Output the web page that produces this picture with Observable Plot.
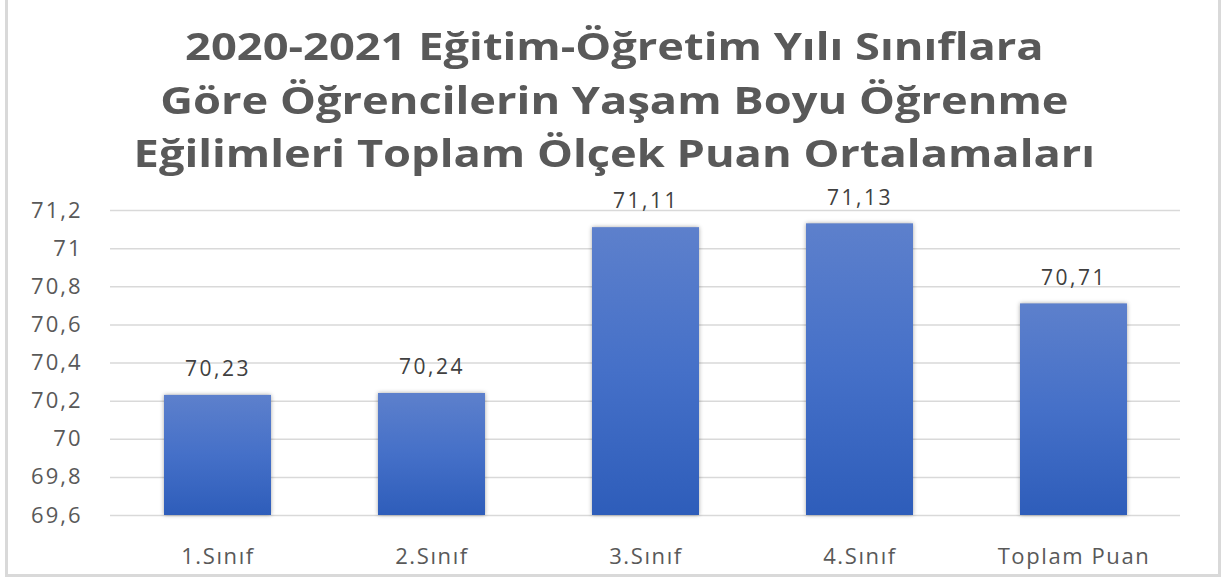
<!DOCTYPE html>
<html><head><meta charset="utf-8">
<script src="https://cdn.jsdelivr.net/npm/d3@7"></script>
<script src="https://cdn.jsdelivr.net/npm/@observablehq/plot@0.6"></script>
<style>
html,body{margin:0;padding:0;background:#fff;width:1228px;height:581px;overflow:hidden;}
#frame{position:absolute;left:5px;top:-3px;width:1210px;height:574px;border:3px solid #d9d9d9;}
#title{position:absolute;left:0;top:19px;width:1228px;text-align:center;font-family:"Open Sans";font-weight:700;font-size:38px;line-height:53.5px;color:#595959;transform:scaleX(1.19);transform-origin:612px 0;}
#chart{position:absolute;left:0;top:180px;}
</style></head><body>
<div id="frame"></div>
<div id="title">2020-2021 Eğitim-Öğretim Yılı Sınıflara<br>Göre Öğrencilerin Yaşam Boyu Öğrenme<br>Eğilimleri Toplam Ölçek Puan Ortalamaları</div>
<div id="chart"></div>
<script>
const categories = ["1.Sınıf", "2.Sınıf", "3.Sınıf", "4.Sınıf", "Toplam Puan"];
const values = [70.23, 70.24, 71.11, 71.13, 70.71];
const yTicks = [69.6, 69.8, 70, 70.2, 70.4, 70.6, 70.8, 71, 71.2];
const data = categories.map((c, i) => ({cat: c, v: values[i]}));
const fmt = v => String(+v.toFixed(2)).replace(".", ",");

const plot = Plot.plot({
  width: 1228, height: 397,
  marginLeft: 110, marginRight: 48, marginTop: 30, marginBottom: 62,
  style: {fontFamily: "Open Sans", background: "transparent"},
  x: {domain: categories, paddingInner: 0.5, paddingOuter: 0.25, label: null},
  y: {domain: [69.6, 71.2], label: null},
  marks: [
    Plot.gridY(yTicks, {stroke: "#d9d9d9", strokeOpacity: 1, strokeWidth: 1.5}),
    Plot.axisY(yTicks, {tickSize: 0, tickPadding: 28, tickFormat: fmt, fontSize: 22, fill: "#595959", label: null}),
    Plot.axisX({tickSize: 0, tickPadding: 33, fontSize: 22, fill: "#595959", label: null}),
    Plot.barY(data, {x: "cat", y1: 69.6, y2: "v", fill: "url(#barGrad)"}),
    Plot.text(data, {x: "cat", y: "v", text: d => fmt(d.v), dy: -26, fontSize: 21, fill: "#404040"})
  ]
});
const svg = d3.select(plot);
const defs = svg.insert("defs", ":first-child");
const g = defs.append("linearGradient").attr("id", "barGrad").attr("x1", 0).attr("y1", 0).attr("x2", 0).attr("y2", 1);
g.append("stop").attr("offset", "0%").attr("stop-color", "#5d80cc");
g.append("stop").attr("offset", "50%").attr("stop-color", "#4570c8");
g.append("stop").attr("offset", "100%").attr("stop-color", "#2e5dba");
svg.selectAll("g[aria-label='y-axis tick label'] text").attr("letter-spacing", "2px");
svg.selectAll("g[aria-label='x-axis tick label'] text").attr("letter-spacing", "1.6px");
svg.selectAll("g[aria-label='text'] text").attr("letter-spacing", "2.5px");
svg.selectAll("g[aria-label='bar'] rect").style("filter", "drop-shadow(0px 0px 2px rgba(0,0,0,0.35))");
document.getElementById("chart").appendChild(plot);
</script>
</body></html>
